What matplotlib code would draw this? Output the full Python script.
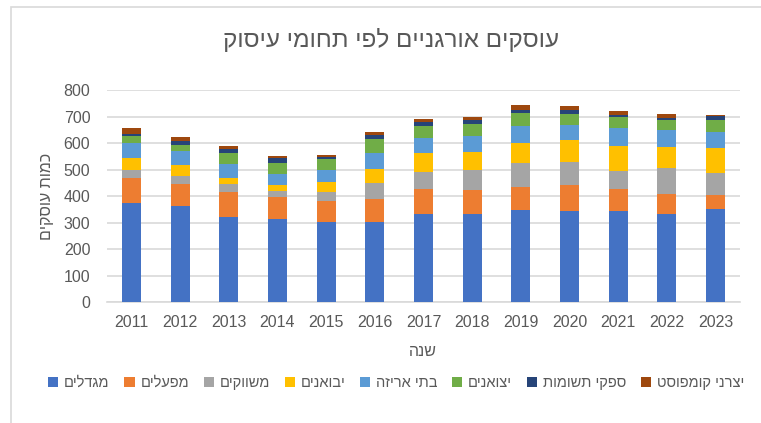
import matplotlib
matplotlib.use("Agg")
import matplotlib.pyplot as plt
from matplotlib.patches import Rectangle
import numpy as np

plt.rcParams['font.family'] = ['Liberation Sans', 'DejaVu Sans']

def heb(s):
    return s[::-1]

title = "עוסקים אורגניים לפי תחומי עיסוק"
ylabel = "כמות עוסקים"
xlabel = "שנה"
years = ["2011", "2012", "2013", "2014", "2015", "2016", "2017",
         "2018", "2019", "2020", "2021", "2022", "2023"]
series_names = ["מגדלים", "מפעלים", "משווקים", "יבואנים",
                "בתי אריזה", "יצואנים", "ספקי תשומות", "יצרני קומפוסט"]

growers    = [374, 364, 322, 314, 302, 302, 333, 333, 347, 343, 343, 333, 351]
factories  = [94, 83, 94, 81, 79, 87, 93, 90, 86, 97, 83, 76, 54]
marketers  = [30, 27, 31, 24, 35, 60, 66, 75, 90, 90, 70, 97, 83]
importers  = [45, 42, 21, 21, 38, 53, 69, 69, 78, 81, 93, 79, 94]
packing    = [58, 54, 51, 44, 45, 59, 59, 61, 64, 57, 69, 63, 58]
exporters  = [25, 21, 42, 42, 41, 54, 44, 44, 47, 41, 40, 39, 48]
suppliers  = [8, 18, 16, 17, 7, 15, 14, 15, 14, 17, 9, 7, 15]
compost    = [24, 14, 12, 9, 9, 10, 12, 11, 17, 15, 13, 15, 4]

series = [growers, factories, marketers, importers, packing, exporters, suppliers, compost]
colors = ["#4472C4", "#ED7D31", "#A5A5A5", "#FFC000",
          "#5B9BD5", "#70AD47", "#264478", "#9E480E"]

W, H = 761, 423
fig = plt.figure(figsize=(W / 100, H / 100), dpi=100)
ax = fig.add_axes([107 / W, 1 - 302 / H, 633 / W, 212 / H])

x = np.arange(len(years))
bottom = np.zeros(len(years))
handles = []
for vals, c, name in zip(series, colors, series_names):
    b = ax.bar(x, vals, width=0.39, bottom=bottom, color=c, label=heb(name), zorder=3)
    handles.append(b)
    bottom += np.array(vals)

ax.set_xlim(-0.5, len(years) - 0.5)
ax.set_ylim(0, 800)
ax.set_yticks(range(0, 801, 100))
ax.set_xticks(x)
ax.set_xticklabels(years)
ax.grid(axis='y', color='#D9D9D9', linewidth=1.2, zorder=0)
for s in ['top', 'right', 'left']:
    ax.spines[s].set_visible(False)
ax.spines['bottom'].set_color('#D9D9D9')
ax.spines['bottom'].set_linewidth(1.2)
ax.tick_params(axis='both', length=0, colors='#595959', labelsize=11.5)
ax.tick_params(axis='y', pad=12)
ax.tick_params(axis='x', pad=9)

fig.text(391 / W, 1 - 40 / H, heb(title), ha='center', va='center',
         fontsize=17.5, color='#595959')
fig.text(423 / W, 1 - 351 / H, heb(xlabel), ha='center', va='center',
         fontsize=11.5, color='#595959')
fig.text(47 / W, 1 - 196 / H, heb(ylabel), ha='center', va='center',
         rotation=90, fontsize=11.5, color='#595959')

leg = fig.legend(handles=handles, labels=[heb(n) for n in series_names],
                 loc='center', bbox_to_anchor=(396 / W, 1 - 383 / H), ncol=8,
                 frameon=False, fontsize=10.5, handlelength=0.7, handleheight=0.7,
                 handletextpad=0.4, columnspacing=1.0, labelcolor='#595959')

fig.patches.append(Rectangle((11 / W, -0.1), 1.2, 1 + 0.1 - 7 / H,
                             transform=fig.transFigure, fill=False,
                             edgecolor='#D9D9D9', linewidth=1.2))

fig.savefig("out.png", dpi=100)
